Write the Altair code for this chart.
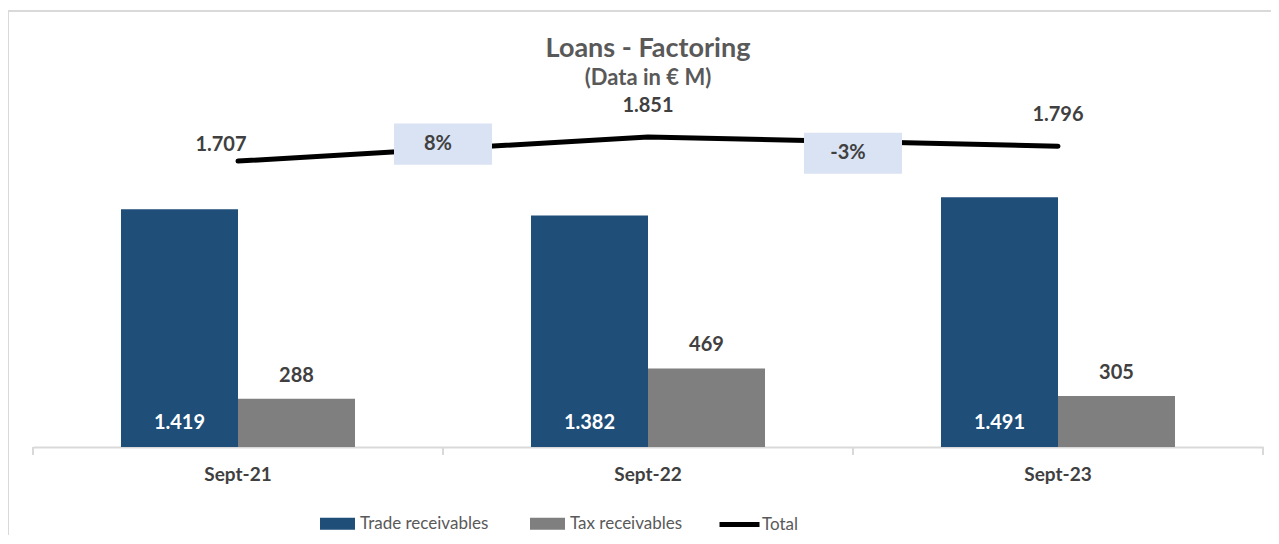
import altair as alt
import pandas as pd

# ---------------- data ----------------
categories = ["Sept-21", "Sept-22", "Sept-23"]
trade_receivables = [1419, 1382, 1491]
tax_receivables = [288, 469, 305]
totals = [1707, 1851, 1796]
growth_labels = ["8%", "-3%"]
growth_from = ["Sept-21", "Sept-22"]
growth_level = [1808, 1754]   # value-axis level where each growth box sits
series_names = ["Trade receivables", "Tax receivables"]
title_text = "Loans - Factoring"
subtitle_text = "(Data in € M)"


def fmt(v):
    return f"{v:,}".replace(",", ".")


bars_df = pd.DataFrame(
    [{"category": c, "series": series_names[0], "value": v, "label": fmt(v), "zero": 0}
     for c, v in zip(categories, trade_receivables)]
    + [{"category": c, "series": series_names[1], "value": v, "label": fmt(v), "zero": 0}
       for c, v in zip(categories, tax_receivables)]
)
line_df = pd.DataFrame({"category": categories, "total": totals,
                        "label": [fmt(v) for v in totals], "name": "Total",
                        "idx": list(range(len(categories)))})
growth_df = pd.DataFrame({"category": growth_from, "label": growth_labels,
                          "level": growth_level})
ticks_df = pd.DataFrame({"category": categories})

BLUE = "#1F4E79"
GRAY = "#7F7F7F"
TXT = "#404040"
TITLE_C = "#595959"
FONT = "Lato"

W, H = 1230, 335
y_scale = alt.Scale(domain=[0, 2000])
x_scale = alt.Scale(paddingInner=0, paddingOuter=0)
xo_scale = alt.Scale(domain=series_names, paddingInner=0, paddingOuter=0.752)

x_enc = alt.X("category:N", scale=x_scale, sort=categories, title=None)
xo_enc = alt.XOffset("series:N", scale=xo_scale, sort=series_names)

one = pd.DataFrame({"a": [0]})

border = alt.Chart(one).mark_rect(
    fill=None, stroke="#D9D9D9", strokeWidth=2
).encode(x=alt.value(-25), x2=alt.value(1262), y=alt.value(-101), y2=alt.value(460))

title_mark = alt.Chart(one).mark_text(
    text=title_text, font=FONT, fontSize=27, fontWeight="bold", color=TITLE_C,
    baseline="alphabetic", align="center"
).encode(x=alt.value(W / 2), y=alt.value(-55))

subtitle_mark = alt.Chart(one).mark_text(
    text=subtitle_text, font=FONT, fontSize=22, fontWeight="bold", color=TITLE_C,
    baseline="alphabetic", align="center"
).encode(x=alt.value(W / 2), y=alt.value(-27))

bars = alt.Chart(bars_df).mark_bar().encode(
    x=x_enc,
    xOffset=xo_enc,
    y=alt.Y("value:Q", scale=y_scale, axis=None),
    color=alt.Color(
        "series:N",
        scale=alt.Scale(domain=series_names, range=[BLUE, GRAY]),
        sort=series_names,
        legend=alt.Legend(
            title=None, orient="none", legendX=287, legendY=394, direction="horizontal",
            symbolType="M-1,-0.34L1,-0.34L1,0.34L-1,0.34Z", symbolSize=1225,
            symbolStrokeWidth=0, labelOffset=5, columnPadding=41, padding=0,
            labelFont=FONT, labelFontSize=17, labelColor=TITLE_C,
            labelLimit=300,
        ),
    ),
)

trade_text = alt.Chart(bars_df).transform_filter(
    alt.datum.series == series_names[0]
).mark_text(color="white", font=FONT, fontWeight="bold", fontSize=20, dy=-24,
            baseline="middle").encode(
    x=x_enc,
    xOffset=xo_enc,
    y=alt.Y("zero:Q", scale=y_scale, axis=None),
    text="label:N",
)

tax_text = alt.Chart(bars_df).transform_filter(
    alt.datum.series == series_names[1]
).mark_text(color=TXT, font=FONT, fontWeight="bold", fontSize=20, dy=-23,
            baseline="middle").encode(
    x=x_enc,
    xOffset=xo_enc,
    y=alt.Y("value:Q", scale=y_scale, axis=None),
    text="label:N",
)

line = alt.Chart(line_df).mark_line(strokeWidth=5, strokeCap="round").encode(
    x=x_enc,
    y=alt.Y("total:Q", scale=y_scale, axis=None),
    stroke=alt.Stroke(
        "name:N",
        scale=alt.Scale(domain=["Total"], range=["#000000"]),
        legend=alt.Legend(
            title=None, orient="none", legendX=684, legendY=390, symbolType="stroke",
            symbolSize=1600, symbolStrokeWidth=5, labelOffset=0, padding=0,
            labelFont=FONT, labelFontSize=17, labelColor=TITLE_C,
        ),
    ),
)

tot_text_first = alt.Chart(line_df).transform_filter(alt.datum.idx == 0).mark_text(
    color=TXT, font=FONT, fontWeight="bold", fontSize=20, dx=-17, dy=-16,
    baseline="middle").encode(
    x=x_enc, y=alt.Y("total:Q", scale=y_scale, axis=None), text="label:N")

tot_text_rest = alt.Chart(line_df).transform_filter(alt.datum.idx > 0).mark_text(
    color=TXT, font=FONT, fontWeight="bold", fontSize=20, dy=-31,
    baseline="middle").encode(
    x=x_enc, y=alt.Y("total:Q", scale=y_scale, axis=None), text="label:N")

boxes = alt.Chart(growth_df).mark_point(
    shape="M-1,-0.42L1,-0.42L1,0.42L-1,0.42Z", size=9604, filled=True,
    fill="#DAE3F3", opacity=1, strokeWidth=0, dx=-5
).encode(
    x=alt.X("category:N", scale=x_scale, sort=categories, bandPosition=1, title=None),
    y=alt.Y("level:Q", scale=y_scale, axis=None),
)

box_text = alt.Chart(growth_df).mark_text(
    color=TXT, font=FONT, fontWeight="bold", fontSize=20, baseline="middle", dx=-5
).encode(
    x=alt.X("category:N", scale=x_scale, sort=categories, bandPosition=1, title=None),
    y=alt.Y("level:Q", scale=y_scale, axis=None),
    text="label:N",
)

tick_color = "#D9D9D9"
ticks_left = alt.Chart(ticks_df).mark_rule(color=tick_color, strokeWidth=2).encode(
    x=alt.X("category:N", scale=x_scale, sort=categories, bandPosition=0, title=None),
    y=alt.value(H), y2=alt.value(H + 8),
)
ticks_right = alt.Chart(ticks_df).transform_filter(
    alt.datum.category == categories[-1]
).mark_rule(color=tick_color, strokeWidth=2).encode(
    x=alt.X("category:N", scale=x_scale, sort=categories, bandPosition=1, title=None),
    y=alt.value(H), y2=alt.value(H + 8),
)

chart = alt.layer(
    border, title_mark, subtitle_mark, bars, trade_text, tax_text, line,
    tot_text_first, tot_text_rest, boxes, box_text, ticks_left, ticks_right
).properties(
    width=W, height=H,
    padding={"left": 25, "top": 104, "right": 8, "bottom": 88},
    autosize=alt.AutoSizeParams(type="none"),
).configure_view(stroke=None).configure_axisX(
    domainColor="#D9D9D9", domainWidth=2, ticks=False, labelAngle=0,
    labelFont=FONT, labelFontSize=19, labelFontWeight="bold", labelColor=TXT,
    labelPadding=18, grid=False,
)

chart.save("out.html", embed_options={"renderer": "svg", "actions": False})
